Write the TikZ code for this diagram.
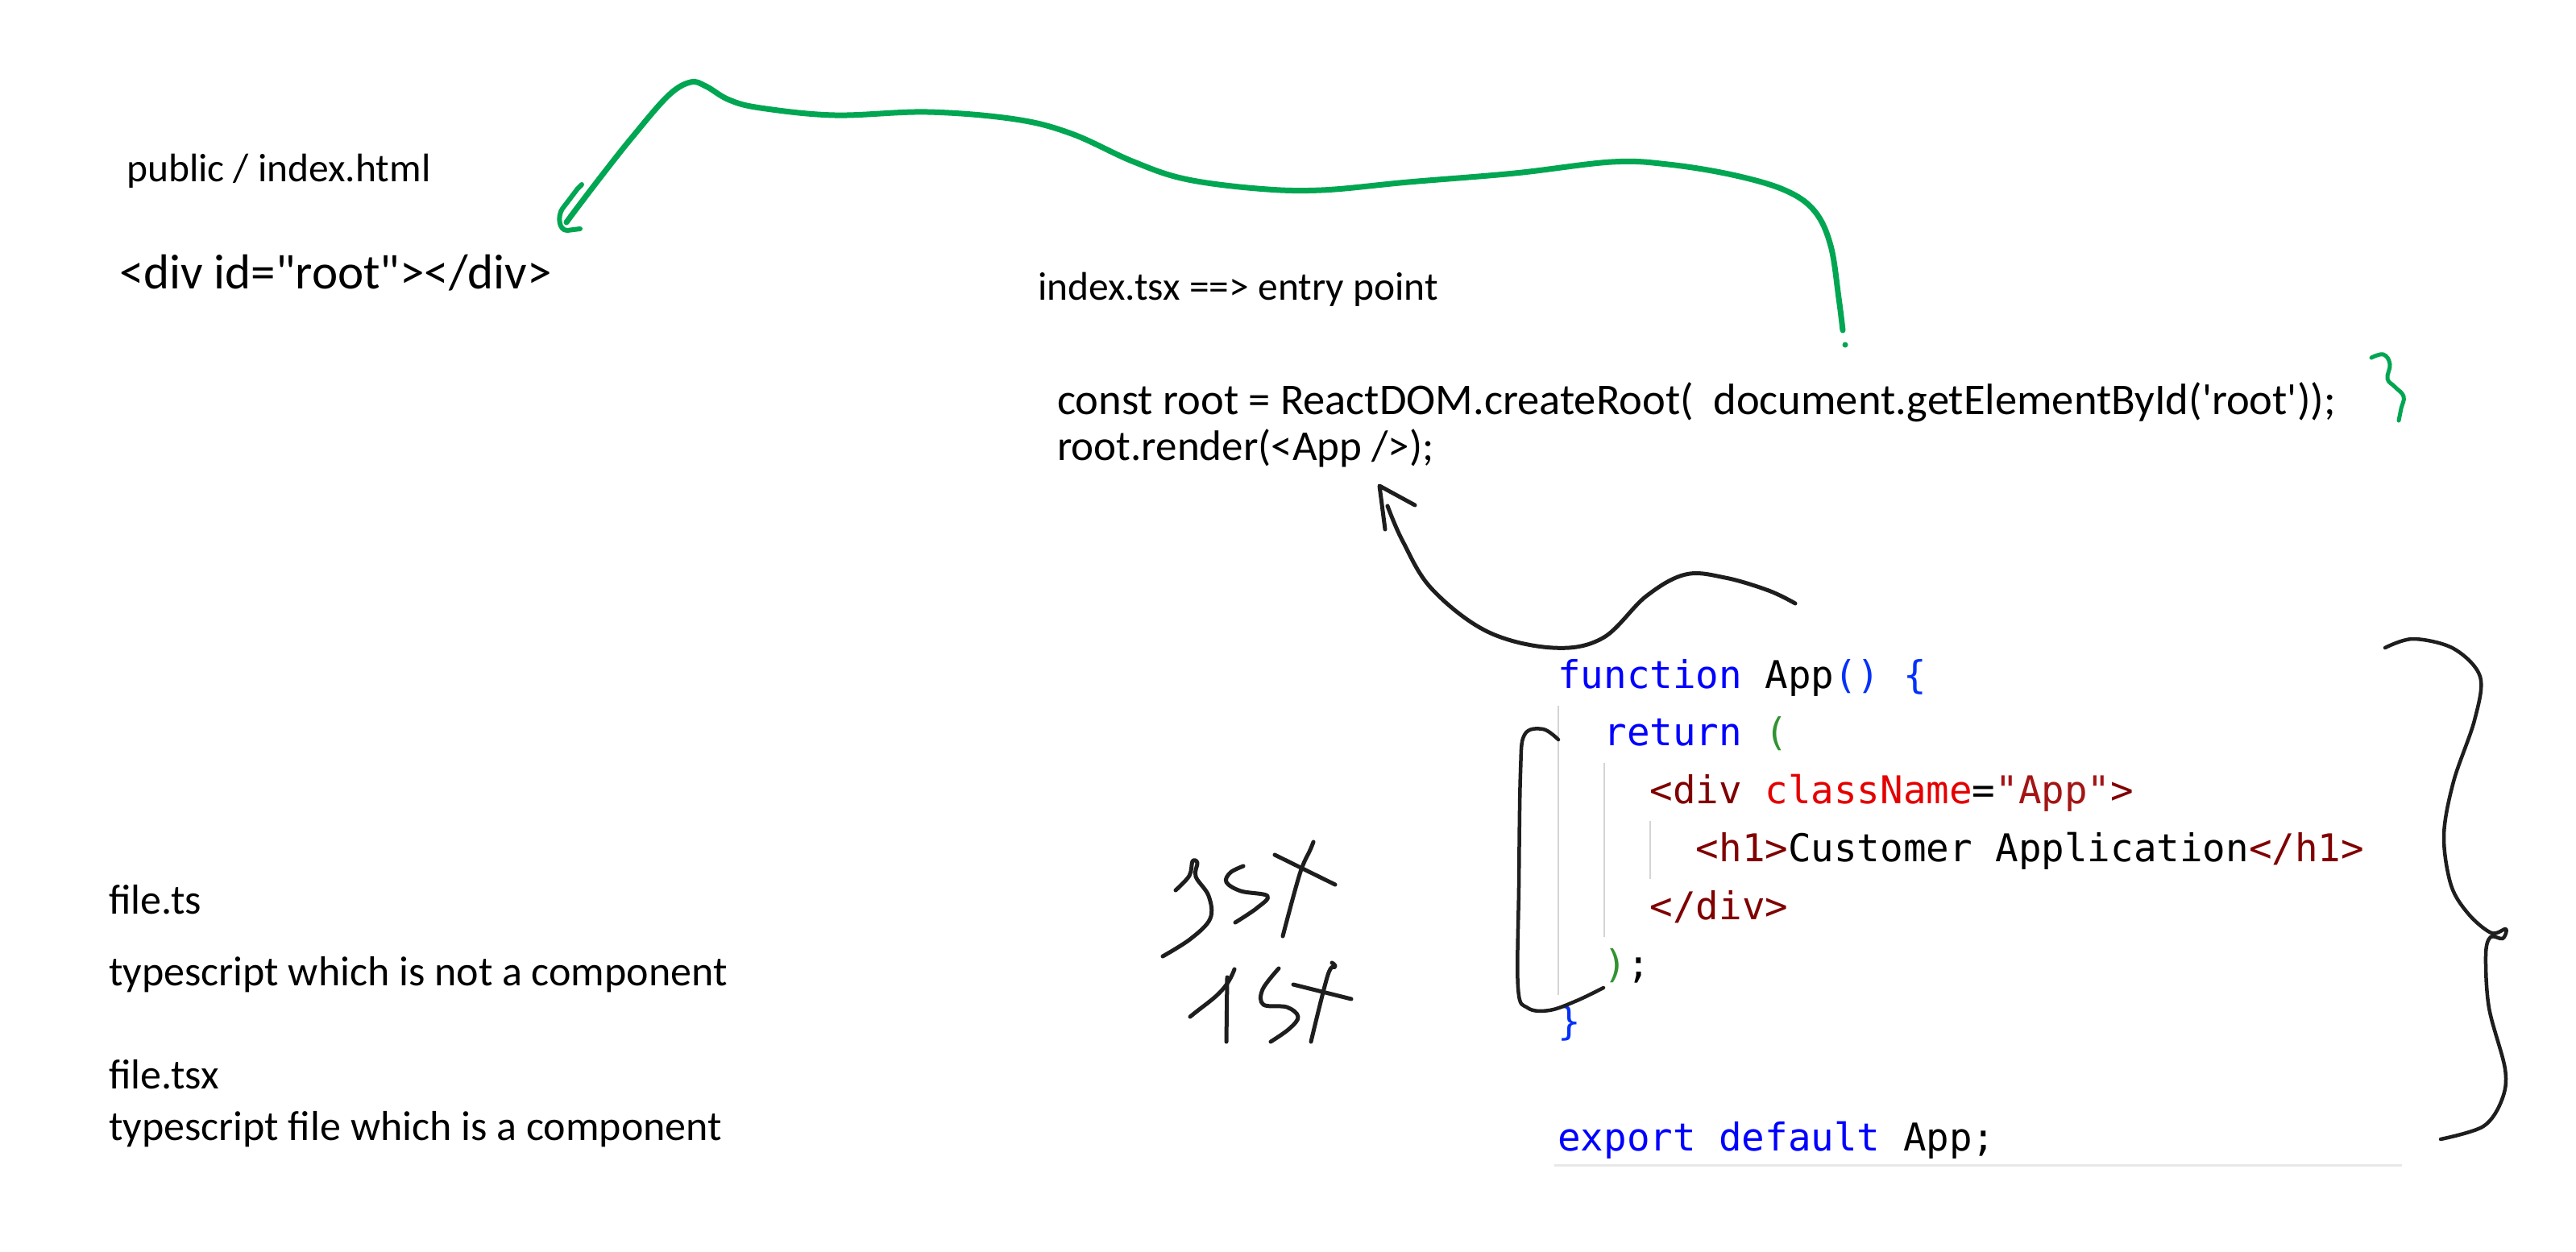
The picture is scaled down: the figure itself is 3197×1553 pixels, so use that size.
\documentclass[tikz,border=0pt]{standalone}
\usepackage{fontspec}
\usetikzlibrary{positioning}
\newfontfamily\handfont{Carlito}
\newfontfamily\codefont{DejaVu Sans Mono}
\definecolor{kwBlue}{HTML}{0000FF}
\definecolor{brBlue}{HTML}{0431FA}
\definecolor{brGreen}{HTML}{319331}
\definecolor{tagRed}{HTML}{800000}
\definecolor{attrRed}{HTML}{E50000}
\definecolor{strRed}{HTML}{A31515}
\definecolor{penGreen}{HTML}{00A651}
\definecolor{penBlack}{HTML}{1E1E1E}
\definecolor{guideGray}{HTML}{D4D4D4}
\definecolor{ruleGray}{HTML}{E8E8E8}
\frenchspacing
\begin{document}
\begin{tikzpicture}[
x=1pt, y=-1pt,
hand/.style={font=\handfont\fontsize{53}{64}\selectfont, anchor=base west, inner sep=0pt},
wide hand/.style={hand, font=\handfont\fontsize{54.5}{66}\selectfont},
small hand/.style={hand, font=\handfont\fontsize{49.5}{60}\selectfont},
big hand/.style={hand, font=\handfont\fontsize{61}{74}\selectfont},
note hand/.style={hand, font=\handfont\fontsize{52}{62}\selectfont},
code/.style={font=\codefont\fontsize{47.5}{58}\selectfont, anchor=base west, inner sep=0pt},
greenpen/.style={draw=penGreen, line width=7pt, line cap=round, line join=round},
blackpen/.style={draw=penBlack, line width=5pt, line cap=round, line join=round},
guide/.style={draw=guideGray, line width=2.5pt}
]
\useasboundingbox (0,0) rectangle (3197,1553);
\fill[white] (0,0) rectangle (3197,1553);

% index.html
\node[small hand] (pub) at (157,225) {public / index.html};
\node[big hand] (rootdiv) at (148,358) {<div id="root"></div>};

% index.tsx
\node[small hand] (entry) at (1288,372) {index.tsx ==> entry point};
\node[wide hand] (create) at (1312,514)
  {const root = ReactDOM.createRoot(\ \ document.getElementById(\textquotesingle root\textquotesingle));};
\node[hand] (render) at ([yshift=-57pt]create.base west) {root.render(<App />);};

% file types
\node[note hand] (ts) at (135,1134) {file.ts};
\node[note hand] (tsdesc) at (135,1223) {typescript which is not a component};
\node[note hand] (tsx) at (135,1351) {file.tsx};
\node[note hand] (tsxdesc) at (135,1415) {typescript file which is a component};

% App.tsx
\node[code] (fn) at (1933,854)
  {\textcolor{kwBlue}{function} App\textcolor{brBlue}{()} \textcolor{brBlue}{\{}};
\node[code] (ret) at ([xshift=57.2pt, yshift=-71.8pt]fn.base west)
  {\textcolor{kwBlue}{return} \textcolor{brGreen}{(}};
\node[code] (divopen) at ([xshift=57.2pt, yshift=-71.8pt]ret.base west)
  {\textcolor{tagRed}{<div} \textcolor{attrRed}{className}=\textcolor{strRed}{"App"}\textcolor{tagRed}{>}};
\node[code] (hone) at ([xshift=57.2pt, yshift=-71.8pt]divopen.base west)
  {\textcolor{tagRed}{<h1>}Customer Application\textcolor{tagRed}{</h1>}};
\node[code] (divclose) at ([xshift=-57.2pt, yshift=-71.8pt]hone.base west)
  {\textcolor{tagRed}{</div>}};
\node[code] (retclose) at ([xshift=-57.2pt, yshift=-71.8pt]divclose.base west)
  {\textcolor{brGreen}{)};};
\node[code] (fnclose) at ([xshift=-57.2pt, yshift=-71.8pt]retclose.base west)
  {\textcolor{brBlue}{\}}};
\node[code] (export) at ([yshift=-143.6pt]fnclose.base west)
  {\textcolor{kwBlue}{export default} App;};

% indent guides and rule
\draw[guide] (1934,876) -- (1934,1235);
\draw[guide] (1991,947) -- (1991,1163);
\draw[guide] (2048,1019) -- (2048,1091);
\draw[draw=ruleGray, line width=3pt] (1929,1446) -- (2981,1446);

% green link: getElementById -> root div
\coordinate (greenTail) at (2287,410);
\coordinate (greenTip) at (703,276);
\draw[greenpen] plot[smooth, tension=0.6] coordinates {(greenTail) (2282,370) (2272,305)
  (2252,262) (2215,236) (2150,217) (2070,204) (2000,201) (1880,215) (1748,226)
  (1640,236) (1560,234) (1470,222) (1405,200) (1330,166) (1260,148) (1151,139)
  (1036,143) (944,134) (905,124) (876,107) (857,102) (829,119) (784,171)
  (746,219) (714,261) (greenTip)};
\draw[greenpen, line width=6pt] (722,229) -- (717,234) -- (698,259) to[out=235,in=180] (704,286) -- (720,284);
\fill[penGreen] (2290,428) circle (3.5);

% small green brace
\draw[greenpen, line width=5pt] plot[smooth, tension=0.7] coordinates {(2943,444) (2958,440)
  (2966,452) (2963,470) (2972,480) (2983,492) (2980,507) (2977,522)};

% black link: App -> root.render
\coordinate (appTail) at (2228,749);
\coordinate (appTip) at (1722,628);
\draw[blackpen] plot[smooth, tension=0.6] coordinates {(appTail) (2195,733) (2141,717)
  (2092,713) (2043,740) (1989,792) (1927,804) (1846,784) (1777,731) (1741,672) (appTip)};
\draw[blackpen] (1719,657) -- (1712,603) -- (1756,627);

% bracket round the return value
\draw[blackpen, line width=4.5pt] plot[smooth, tension=0.6] coordinates {(1934,918) (1915,905)
  (1892,912) (1887,959) (1885,1100) (1884,1226) (1896,1251) (1923,1254) (1957,1242) (1990,1226)};

% brace round the component
\draw[blackpen, line width=4.5pt] plot[smooth, tension=0.55] coordinates {(2960,804) (2995,793)
  (3045,805) (3078,840) (3071,894) (3045,970) (3033,1037) (3042,1099) (3064,1135)
  (3092,1158) (3110,1153) (3106,1165) (3091,1163) (3085,1185) (3089,1251) (3109,1327)
  (3105,1365) (3082,1398) (3029,1414)};

% jsx / tsx scribbles
\draw[blackpen] plot[smooth, tension=0.6] coordinates {(1459,1105) (1476,1087) (1480,1069)
  (1486,1071) (1484,1088) (1500,1112) (1502,1140) (1478,1165) (1443,1187)};
\draw[blackpen] plot[smooth, tension=0.6] coordinates {(1543,1075) (1527,1083) (1522,1095)
  (1540,1106) (1573,1112) (1560,1127) (1533,1145)};
\draw[blackpen] plot[smooth, tension=0.6] coordinates {(1630,1045) (1626,1055) (1613,1085) (1592,1162)};
\draw[blackpen] (1582,1061) -- (1657,1098);
\draw[blackpen] (1477,1262) to[out=40,in=250] (1532,1203);
\draw[blackpen] (1523,1213) -- (1522,1293);
\draw[blackpen] plot[smooth, tension=0.6] coordinates {(1587,1202) (1567,1228) (1568,1247)
  (1597,1250) (1611,1262) (1600,1277) (1577,1293)};
\draw[blackpen] plot[smooth, tension=0.6] coordinates {(1653,1195) (1657,1200) (1648,1210) (1627,1293)};
\draw[blackpen] (1605,1222) -- (1677,1240);
\end{tikzpicture}
\end{document}
